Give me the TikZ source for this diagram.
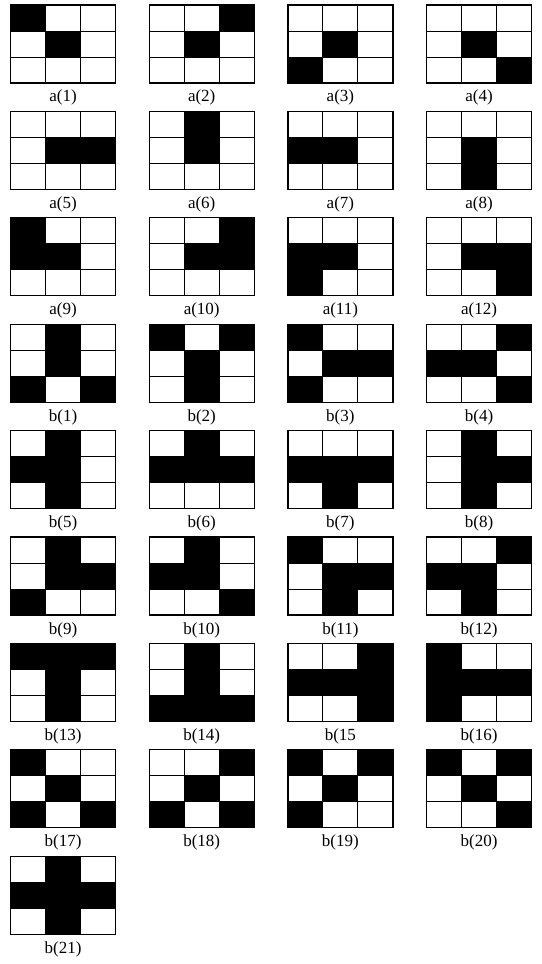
\documentclass[tikz,border=0pt]{standalone}
\usepackage{fontspec}
\setmainfont{Liberation Serif}
\usetikzlibrary{positioning}

% one 3x3 pattern: name, column, row, label, black cells (1..9, row by row)
\newcommand{\patt}[5]{%
  \node[cellbox] (#1) at ({63+138.7*#2},{-(44+106.4*#3)}) {};
  \begin{scope}[shift={(#1.north west)}]
    \foreach \c in {#5} {
      \pgfmathtruncatemacro\cx{mod(\c-1,3)}
      \pgfmathtruncatemacro\ry{(\c-1)/3}
      \fill (\cx*35,-\ry*26) rectangle ++(35,-26);
    }
    \draw[gridline] (35,0) -- (35,-78) (70,0) -- (70,-78)
                    (0,-26) -- (105,-26) (0,-52) -- (105,-52);
  \end{scope}
  \draw[frame] (#1.north west) rectangle (#1.south east);
  \node[lbl, below=7pt of #1] (#1-lbl) {#4};
}

\begin{document}
\begin{tikzpicture}[
    x=1pt, y=1pt,
    cellbox/.style={minimum width=105pt, minimum height=78pt,
                    inner sep=0pt, outer sep=0pt},
    gridline/.style={line width=1pt},
    frame/.style={line width=1.3pt},
    lbl/.style={inner sep=0pt, font=\fontsize{17}{20}\selectfont}
]
  \useasboundingbox (0,0) rectangle (541,-964);

  \patt{a1}{0}{0}{a(1)}{1,5}
  \patt{a2}{1}{0}{a(2)}{3,5}
  \patt{a3}{2}{0}{a(3)}{5,7}
  \patt{a4}{3}{0}{a(4)}{5,9}

  \patt{a5}{0}{1}{a(5)}{5,6}
  \patt{a6}{1}{1}{a(6)}{2,5}
  \patt{a7}{2}{1}{a(7)}{4,5}
  \patt{a8}{3}{1}{a(8)}{5,8}

  \patt{a9}{0}{2}{a(9)}{1,4,5}
  \patt{a10}{1}{2}{a(10)}{3,5,6}
  \patt{a11}{2}{2}{a(11)}{4,5,7}
  \patt{a12}{3}{2}{a(12)}{5,6,9}

  \patt{b1}{0}{3}{b(1)}{2,5,7,9}
  \patt{b2}{1}{3}{b(2)}{1,3,5,8}
  \patt{b3}{2}{3}{b(3)}{1,5,6,7}
  \patt{b4}{3}{3}{b(4)}{3,4,5,9}

  \patt{b5}{0}{4}{b(5)}{2,4,5,8}
  \patt{b6}{1}{4}{b(6)}{2,4,5,6}
  \patt{b7}{2}{4}{b(7)}{4,5,6,8}
  \patt{b8}{3}{4}{b(8)}{2,5,6,8}

  \patt{b9}{0}{5}{b(9)}{2,5,6,7}
  \patt{b10}{1}{5}{b(10)}{2,4,5,9}
  \patt{b11}{2}{5}{b(11)}{1,5,6,8}
  \patt{b12}{3}{5}{b(12)}{3,4,5,8}

  \patt{b13}{0}{6}{b(13)}{1,2,3,5,8}
  \patt{b14}{1}{6}{b(14)}{2,5,7,8,9}
  \patt{b15}{2}{6}{b(15}{3,4,5,6,9}
  \patt{b16}{3}{6}{b(16)}{1,4,5,6,7}

  \patt{b17}{0}{7}{b(17)}{1,5,7,9}
  \patt{b18}{1}{7}{b(18)}{3,5,7,9}
  \patt{b19}{2}{7}{b(19)}{1,3,5,7}
  \patt{b20}{3}{7}{b(20)}{1,3,5,9}

  \patt{b21}{0}{8}{b(21)}{2,4,5,6,8}
\end{tikzpicture}
\end{document}
